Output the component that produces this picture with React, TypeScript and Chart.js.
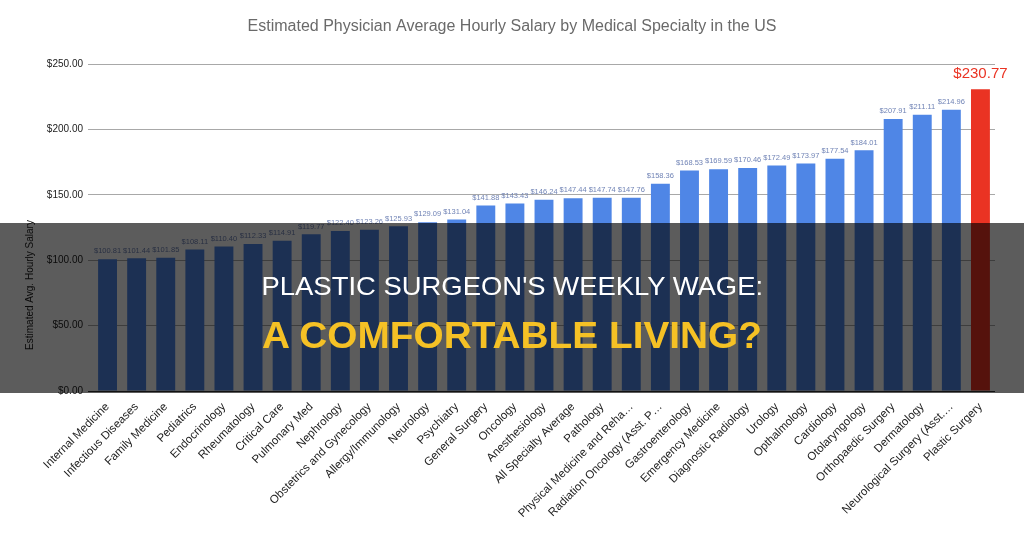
import React, { useEffect, useRef } from "react";
import { Chart, registerables } from "chart.js";

Chart.register(...registerables);

const categories: string[] = [
  "Internal Medicine",
  "Infectious Diseases",
  "Family Medicine",
  "Pediatrics",
  "Endocrinology",
  "Rheumatology",
  "Critical Care",
  "Pulmonary Med",
  "Nephrology",
  "Obstetrics and Gynecology",
  "Allergy/Immunology",
  "Neurology",
  "Psychiatry",
  "General Surgery",
  "Oncology",
  "Anesthesiology",
  "All Specialty Average",
  "Pathology",
  "Physical Medicine and Reha…",
  "Radiation Oncology (Asst. P…",
  "Gastroenterology",
  "Emergency Medicine",
  "Diagnostic Radiology",
  "Urology",
  "Opthalmology",
  "Cardiology",
  "Otolaryngology",
  "Orthopaedic Surgery",
  "Dermatology",
  "Neurological Surgery (Asst.…",
  "Plastic Surgery",
];

const hourlySalary: number[] = [
  100.81, 101.44, 101.85, 108.11, 110.4, 112.33, 114.91, 119.77, 122.4, 123.26,
  125.93, 129.09, 131.04, 141.88, 143.43, 146.24, 147.44, 147.74, 147.76, 158.36,
  168.53, 169.59, 170.46, 172.49, 173.97, 177.54, 184.01, 207.91, 211.11, 214.96,
  230.77,
];

const yTicks: number[] = [0, 50, 100, 150, 200, 250];

const chartTitle = "Estimated Physician Average Hourly Salary by Medical Specialty in the US";
const yAxisTitle = "Estimated Avg. Hourly Salary";
const headline1 = "PLASTIC SURGEON'S WEEKLY WAGE:";
const headline2 = "A COMFORTABLE LIVING?";

const BLUE = "#4f86e6";
const RED = "#ea3323";
const FONT = "'Liberation Sans', Arial, sans-serif";

const fmt = (v: number) => "$" + v.toFixed(2);

function FitLine(props: {
  text: string;
  width: number;
  top: number;
  size: number;
  lineHeight: number;
  weight: number;
  color: string;
}) {
  const ref = useRef<HTMLSpanElement | null>(null);
  useEffect(() => {
    const el = ref.current;
    if (!el) return;
    const w = el.offsetWidth;
    if (w > 0) el.style.transform = `scaleX(${props.width / w})`;
  }, [props.text, props.width]);
  return (
    <div
      style={{
        position: "absolute",
        left: 0,
        width: 1024,
        top: props.top,
        textAlign: "center",
        lineHeight: `${props.lineHeight}px`,
        height: props.lineHeight,
        whiteSpace: "nowrap",
      }}
    >
      <span
        ref={ref}
        style={{
          display: "inline-block",
          color: props.color,
          fontFamily: FONT,
          fontSize: props.size,
          fontWeight: props.weight,
          transformOrigin: "center",
        }}
      >
        {props.text}
      </span>
    </div>
  );
}

export default function App() {
  const canvasRef = useRef<HTMLCanvasElement | null>(null);

  useEffect(() => {
    const canvas = canvasRef.current;
    if (!canvas) return;
    const lastIdx = hourlySalary.length - 1;

    const labelsPlugin = {
      id: "valueLabels",
      afterDatasetsDraw(chart: any) {
        const ctx = chart.ctx;
        const meta = chart.getDatasetMeta(0);
        ctx.save();
        ctx.textAlign = "center";
        ctx.textBaseline = "bottom";
        meta.data.forEach((bar: any, i: number) => {
          const v = hourlySalary[i];
          if (i === lastIdx) {
            ctx.font = `15px ${FONT}`;
            ctx.fillStyle = RED;
            ctx.fillText(fmt(v), bar.x, bar.y - 8);
          } else {
            ctx.font = `7.5px ${FONT}`;
            ctx.fillStyle = "#7184b6";
            ctx.fillText(fmt(v), bar.x, bar.y - 4);
          }
        });
        // chart title, centred on the full width
        ctx.font = `16px ${FONT}`;
        ctx.fillStyle = "#6a6a6a";
        ctx.textAlign = "center";
        ctx.textBaseline = "middle";
        ctx.fillText(chartTitle, 512, 27);
        // y axis title
        ctx.save();
        ctx.translate(30, 285);
        ctx.rotate(-Math.PI / 2);
        ctx.font = `10px ${FONT}`;
        ctx.fillStyle = "#222";
        ctx.textAlign = "center";
        ctx.textBaseline = "middle";
        ctx.fillText(yAxisTitle, 0, 0);
        ctx.restore();
        ctx.restore();
      },
    };

    const chart = new Chart(canvas, {
      type: "bar",
      data: {
        labels: categories,
        datasets: [
          {
            data: hourlySalary,
            backgroundColor: hourlySalary.map((_, i) => (i === lastIdx ? RED : BLUE)),
            barPercentage: 0.65,
            categoryPercentage: 1,
          },
        ],
      },
      options: {
        responsive: false,
        animation: false,
        layout: { padding: { left: 0, right: 29, top: 64, bottom: 0 } },
        plugins: {
          legend: { display: false },
          tooltip: { enabled: false },
          title: { display: false },
        },
        scales: {
          x: {
            grid: { display: false },
            border: { display: false },
            ticks: {
              autoSkip: false,
              maxRotation: 45,
              minRotation: 45,
              color: "#222",
              padding: 1,
              font: { size: 11.5, family: FONT },
            },
            afterFit(scale: any) {
              scale.height = 143;
            },
          },
          y: {
            min: 0,
            max: 250,
            afterBuildTicks(scale: any) {
              scale.ticks = yTicks.map((v) => ({ value: v }));
            },
            grid: {
              color: (c: any) => (c.tick && c.tick.value === 0 ? "#333" : "#a8a8a8"),
              tickLength: 5,
            },
            border: { display: false },
            ticks: {
              color: "#222",
              padding: 5,
              font: { size: 10, family: FONT },
              callback: (v: any) => fmt(Number(v)),
            },
            afterFit(scale: any) {
              scale.width = 93;
            },
          },
        },
      },
      plugins: [labelsPlugin],
    });

    return () => chart.destroy();
  }, []);

  return (
    <div
      style={{
        position: "fixed",
        left: 0,
        top: 0,
        width: 1024,
        height: 534,
        background: "#fff",
        overflow: "hidden",
      }}
    >
      <canvas ref={canvasRef} width={1024} height={534} style={{ display: "block", width: 1024, height: 534 }} />
      <div
        style={{
          position: "absolute",
          left: 0,
          top: 223,
          width: 1024,
          height: 170,
          background: "rgba(0,0,0,0.64)",
        }}
      >
        <FitLine text={headline1} width={502} top={47} size={26.5} lineHeight={32} weight={400} color="#ffffff" />
        <FitLine text={headline2} width={500} top={91} size={36} lineHeight={43} weight={600} color="#f5c125" />
      </div>
    </div>
  );
}
